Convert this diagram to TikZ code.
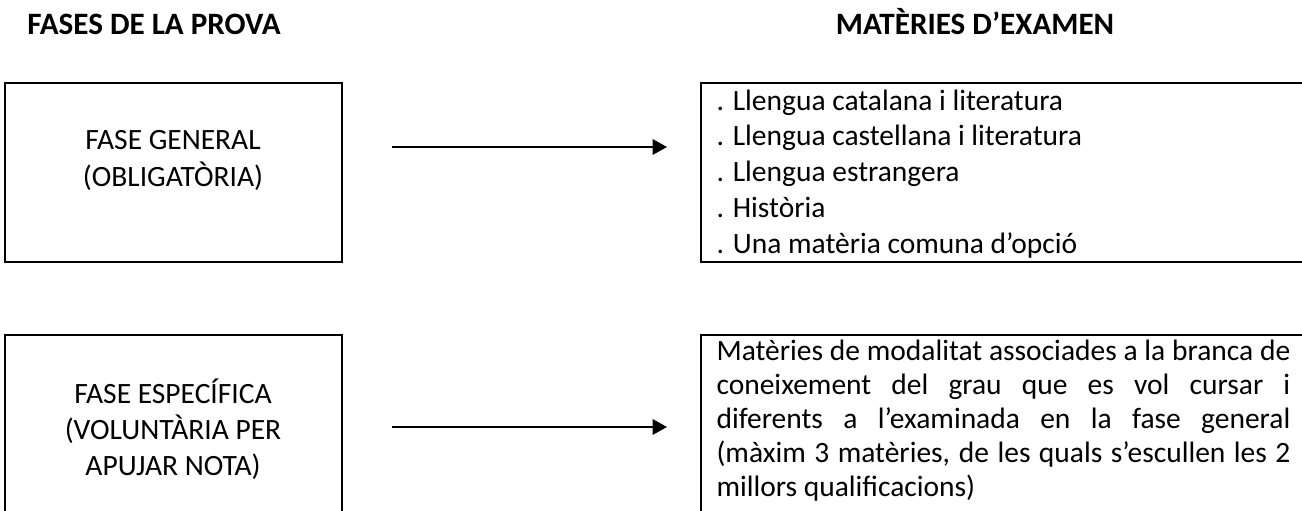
\documentclass[tikz,border=0pt]{standalone}
\usepackage{fontspec}
\setmainfont{Carlito}
\usetikzlibrary{arrows.meta,fit}

\tikzset{
  box/.style={draw,line width=0.7pt,inner sep=0pt},
  txt/.style={font=\fontsize{11}{13.4}\selectfont,inner sep=0pt},
  head/.style={font=\fontsize{11.6}{14}\selectfont\bfseries,inner sep=0pt,anchor=base},
  arr/.style={-{Triangle[length=5.4pt,width=5.8pt]},line width=0.7pt},
}

\begin{document}
\begin{tikzpicture}[x=0.373pt,y=-0.373pt]
\clip (0,0) rectangle (1302,510);
%\fill[white] (0,0) rectangle (1302,510);
\node[head] (hfases) at (154,35) {FASES DE LA PROVA};
\node[head] (hmat) at (975,35) {MATÈRIES D’EXAMEN};
\node[box,fit={(5,83) (342,262)}] (bgen) {};
\node[box,fit={(5,335) (342,540)}] (besp) {};
\node[box,fit={(701,83) (1330,262)}] (bmat1) {};
\node[box,fit={(701,335) (1330,540)}] (bmat2) {};
\node[txt,font=\fontsize{11}{13.8}\selectfont,align=center] (tgen) at (173,160) {FASE GENERAL\\(OBLIGATÒRIA)};
\node[txt,align=center] (tesp) at (173,429) {FASE ESPECÍFICA\\(VOLUNTÀRIA PER\\APUJAR NOTA)};
\node[txt,align=left,anchor=west] (tmat1) at (716,174) {. Llengua catalana i literatura\\
  . Llengua castellana i literatura\\. Llengua estrangera\\. Història\\. Una matèria comuna d’opció};
\node[txt,font=\fontsize{11}{12.7}\selectfont,align=justify,text width=214pt,anchor=west] (tmat2)
  at (716,421) {Matèries de modalitat
  associades a la branca de\linebreak coneixement del grau que es vol cursar i\linebreak
  diferents a l’examinada en la fase general\linebreak (màxim 3 matèries, de les quals
  s’escullen les 2\linebreak millors qualificacions)};
\coordinate (a1s) at (392,147);
\coordinate (a1e) at (667,147);
\coordinate (a2s) at (392,427);
\coordinate (a2e) at (667,427);
\draw[arr] (a1s) -- (a1e);
\draw[arr] (a2s) -- (a2e);
\end{tikzpicture}
\end{document}
